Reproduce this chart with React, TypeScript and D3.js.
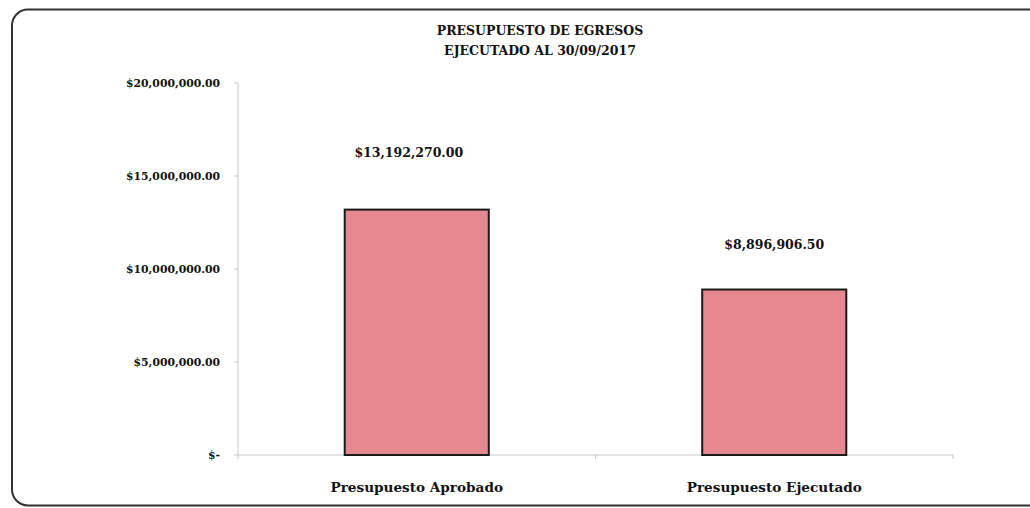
import React from "react";
import * as d3 from "d3";

const categories = ["Presupuesto Aprobado", "Presupuesto Ejecutado"];
const values = [13192270.0, 8896906.5];
const valueLabels = ["$13,192,270.00", "$8,896,906.50"];
const yTicks = [0, 5000000, 10000000, 15000000, 20000000];
const yTickLabels = ["$-", "$5,000,000.00", "$10,000,000.00", "$15,000,000.00", "$20,000,000.00"];
const titleLines = ["PRESUPUESTO DE EGRESOS", "EJECUTADO AL 30/09/2017"];

const W = 1030;
const H = 508;
const FONT = "'DejaVu Serif', 'Liberation Serif', serif";

export default function App() {
  const x = d3.scaleBand<string>().domain(categories).range([238, 953]).padding(0);
  const y = d3.scaleLinear().domain([0, 20000000]).range([455, 83]);
  const barW = x.bandwidth() * 0.403;
  const boundaries = [238, ...categories.map((c) => (x(c) as number) + x.bandwidth())];
  const labelShift = [{ dx: -8, dy: -57 }, { dx: 0, dy: -45 }];

  return (
    <svg
      width={W}
      height={H}
      style={{ position: "absolute", left: 0, top: 0, display: "block", background: "#fff" }}
    >
      <rect x={12} y={9.5} width={1030 - 12 + 20} height={496} rx={16} ry={16} fill="#fff" stroke="#333" strokeWidth={2} />
      {titleLines.map((t, i) => (
        <text key={t} x={540} y={35 + i * 20} textAnchor="middle" fontFamily={FONT} fontWeight="bold" fontSize={12.5} fill="#111">
          {t}
        </text>
      ))}
      {/* y axis */}
      <line x1={238} x2={238} y1={y(20000000)} y2={y(0)} stroke="#c8c8c8" strokeWidth={1} />
      {yTicks.map((t, i) => (
        <g key={t}>
          <line x1={234} x2={238} y1={y(t)} y2={y(t)} stroke="#c8c8c8" strokeWidth={1} />
          <text x={220} y={y(t)} dy="0.35em" textAnchor="end" fontFamily={FONT} fontWeight="bold" fontSize={10.8} fill="#111">
            {yTickLabels[i]}
          </text>
        </g>
      ))}
      {/* x axis */}
      <line x1={238} x2={953} y1={y(0)} y2={y(0)} stroke="#c8c8c8" strokeWidth={1} />
      {boundaries.map((b) => (
        <line key={b} x1={b} x2={b} y1={y(0)} y2={y(0) + 4} stroke="#c8c8c8" strokeWidth={1} />
      ))}
      {categories.map((c, i) => {
        const cx = (x(c) as number) + x.bandwidth() / 2;
        return (
          <g key={c}>
            <rect
              x={cx - barW / 2}
              y={y(values[i])}
              width={barW}
              height={y(0) - y(values[i])}
              fill="#e58890"
              stroke="#1a1a1a"
              strokeWidth={2}
            />
            <text x={cx + labelShift[i].dx} y={y(values[i]) + labelShift[i].dy} dy="0.35em" textAnchor="middle" fontFamily={FONT} fontWeight="bold" fontSize={12.5} fill="#111">
              {valueLabels[i]}
            </text>
            <text x={cx} y={487} dy="0.35em" textAnchor="middle" fontFamily={FONT} fontWeight="bold" fontSize={13.6} fill="#111">
              {c}
            </text>
          </g>
        );
      })}
    </svg>
  );
}
